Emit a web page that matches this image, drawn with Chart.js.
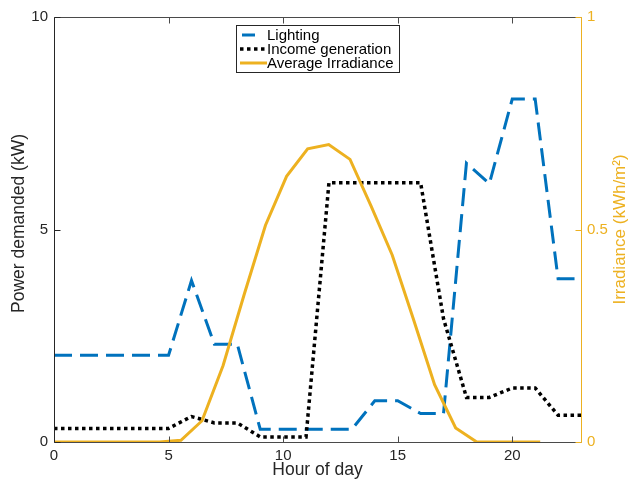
<!DOCTYPE html>
<html>
<head>
<meta charset="utf-8">
<script src="https://cdn.jsdelivr.net/npm/chart.js@4.4.1/dist/chart.umd.min.js"></script>
<style>
  html, body { margin: 0; padding: 0; background: #fff; }
  #wrap { width: 631px; height: 483px; }
</style>
</head>
<body>
<div id="wrap"><canvas id="myChart" width="631" height="483"></canvas></div>
<script>
// hourly demand profile (kW)
const hours = [0, 1, 2, 3, 4, 5, 6, 7, 8, 9, 10, 11, 12, 13, 14, 15, 16, 17, 18, 19, 20, 21, 22, 23];
const lighting = [2.04, 2.04, 2.04, 2.04, 2.04, 2.04, 3.8, 2.3, 2.3, 0.3, 0.3, 0.3, 0.3, 0.3, 0.97, 0.97, 0.67, 0.67, 6.56, 6.08, 8.07, 8.07, 3.84, 3.84];
const income = [0.32, 0.32, 0.32, 0.32, 0.32, 0.32, 0.6, 0.45, 0.45, 0.12, 0.12, 0.12, 6.1, 6.1, 6.1, 6.1, 6.1, 2.9, 1.05, 1.05, 1.27, 1.27, 0.63, 0.63];

// irradiance samples (kWh/m2), 24 readings spread over the day
const irrHours = [0, 0.92, 1.85, 2.77, 3.69, 4.61, 5.54, 6.46, 7.38, 8.3, 9.23, 10.15, 11.07, 11.99, 12.92, 13.84, 14.76, 15.68, 16.61, 17.53, 18.45, 19.37, 20.3, 21.22];
const irradiance = [0, 0, 0, 0, 0, 0, 0.004, 0.05, 0.18, 0.347, 0.51, 0.625, 0.69, 0.7, 0.665, 0.555, 0.44, 0.29, 0.135, 0.033, 0, 0, 0, 0];

const xTicks = [0, 5, 10, 15, 20];
const seriesNames = ['Lighting', 'Income generation', 'Average Irradiance'];

const BLUE = '#0072BD';
const ORANGE = '#EDB120';
const INK = '#262626';
const FONT = '"Liberation Sans", Arial, Helvetica, sans-serif';

function pts(xs, ys) {
  return xs.map((x, i) => ({ x: x, y: ys[i] }));
}

// tick marks inside the box, box lines and both y titles
const axesBox = {
  id: 'axesBox',
  afterDraw(chart) {
    const ctx = chart.ctx;
    const a = chart.chartArea;
    const sx = chart.scales.x, sy = chart.scales.y, sy1 = chart.scales.y1;
    const L = Math.round(a.left) + 0.5, R = Math.round(a.right) + 0.5;
    const T = Math.round(a.top) + 0.5, B = Math.round(a.bottom) + 0.5;
    ctx.save();
    ctx.lineWidth = 1;
    ctx.strokeStyle = '#4a4a4a';
    ctx.beginPath();
    ctx.moveTo(L, T); ctx.lineTo(R, T);
    ctx.moveTo(L, B); ctx.lineTo(R, B);
    xTicks.forEach(v => {
      const px = Math.round(sx.getPixelForValue(v)) + 0.5;
      ctx.moveTo(px, B); ctx.lineTo(px, B - 6);
      ctx.moveTo(px, T); ctx.lineTo(px, T + 6);
    });
    ctx.stroke();
    ctx.strokeStyle = INK;
    ctx.beginPath();
    ctx.moveTo(L, T); ctx.lineTo(L, B);
    sy.ticks.forEach(t => {
      const py = Math.round(sy.getPixelForValue(t.value)) + 0.5;
      ctx.moveTo(L, py); ctx.lineTo(L + 6, py);
    });
    ctx.stroke();
    ctx.strokeStyle = ORANGE;
    ctx.beginPath();
    ctx.moveTo(R, T); ctx.lineTo(R, B);
    sy1.ticks.forEach(t => {
      const py = Math.round(sy1.getPixelForValue(t.value)) + 0.5;
      ctx.moveTo(R, py); ctx.lineTo(R - 6, py);
    });
    ctx.stroke();

    ctx.font = '17.5px ' + FONT;
    ctx.textAlign = 'center';
    ctx.textBaseline = 'middle';
    const mid = (a.top + a.bottom) / 2;

    ctx.save();
    ctx.translate(19, mid - 6);
    ctx.rotate(-Math.PI / 2);
    ctx.fillStyle = INK;
    ctx.fillText('Power demanded (kW)', 0, 0);
    ctx.restore();

    ctx.translate(620, mid);
    ctx.rotate(-Math.PI / 2);
    ctx.fillStyle = ORANGE;
    ctx.font = '17px ' + FONT;
    ctx.fillText('Irradiance (kWh/m²)', 0, 0);
    ctx.restore();
  }
};

// boxed legend in the upper middle of the plot
const boxLegend = {
  id: 'boxLegend',
  afterDraw(chart) {
    const ctx = chart.ctx;
    const x0 = 236.5, y0 = 25.5, w = 163, h = 47;
    ctx.save();
    ctx.fillStyle = '#fff';
    ctx.fillRect(x0, y0, w, h);
    ctx.strokeStyle = INK;
    ctx.lineWidth = 1;
    ctx.strokeRect(x0, y0, w, h);
    ctx.font = '15px ' + FONT;
    ctx.textBaseline = 'middle';
    chart.data.datasets.forEach((ds, i) => {
      const y = 35 + i * 14;
      ctx.save();
      ctx.strokeStyle = ds.borderColor;
      ctx.lineWidth = ds.borderWidth;
      ctx.setLineDash(ds.borderDash || []);
      ctx.beginPath();
      ctx.moveTo(ds.legendStart || 240, y);
      ctx.lineTo(ds.legendEnd || 267, y);
      ctx.stroke();
      ctx.restore();
      ctx.fillStyle = '#000';
      ctx.fillText(ds.label, 267, y + 1);
    });
    ctx.restore();
  }
};

const chartData = {
  datasets: [
    {
      label: seriesNames[0],
      data: pts(hours, lighting),
      yAxisID: 'y',
      borderColor: BLUE,
      borderWidth: 3,
      borderDash: [18, 8],
      borderCapStyle: 'butt',
      legendStart: 242,
      legendEnd: 255,
      order: 3,
    },
    {
      label: seriesNames[1],
      data: pts(hours, income),
      yAxisID: 'y',
      borderColor: '#000',
      borderWidth: 3.5,
      borderDash: [3.5, 3.5],
      borderCapStyle: 'butt',
      order: 2,
    },
    {
      label: seriesNames[2],
      data: pts(irrHours, irradiance),
      yAxisID: 'y1',
      borderColor: ORANGE,
      borderWidth: 3,
      order: 1,
    },
  ],
};

const myChart = new Chart(document.getElementById('myChart'), {
  type: 'line',
  data: chartData,
  plugins: [axesBox, boxLegend],
  options: {
    responsive: false,
    animation: false,
    devicePixelRatio: 1,
    layout: { padding: { top: 17, left: 0, right: 0, bottom: 0 } },
    elements: {
      point: { radius: 0 },
      line: { tension: 0, borderJoinStyle: 'miter', fill: false },
    },
    plugins: {
      legend: { display: false },
      tooltip: { enabled: false },
    },
    scales: {
      x: {
        type: 'linear',
        min: 0,
        max: 23,
        afterFit: s => { s.height = 41; },
        afterBuildTicks: s => { s.ticks = xTicks.map(v => ({ value: v })); },
        grid: { display: false, drawTicks: false },
        border: { display: false },
        ticks: { padding: 5, color: INK, font: { family: FONT, size: 15 }, maxRotation: 0 },
        title: { display: true, text: 'Hour of day', color: INK, font: { family: FONT, size: 17.5 }, padding: { top: 0, bottom: 2 } },
      },
      y: {
        position: 'left',
        min: 0,
        max: 10,
        afterFit: s => { s.width = 54; },
        grid: { display: false, drawTicks: false },
        border: { display: false },
        ticks: { stepSize: 5, padding: 6, color: INK, font: { family: FONT, size: 15 } },
      },
      y1: {
        position: 'right',
        min: 0,
        max: 1,
        afterFit: s => { s.width = 50; },
        grid: { display: false, drawTicks: false },
        border: { display: false },
        ticks: { stepSize: 0.5, padding: 6, color: ORANGE, font: { family: FONT, size: 15 }, callback: v => String(v) },
      },
    },
  },
});
</script>
</body>
</html>
